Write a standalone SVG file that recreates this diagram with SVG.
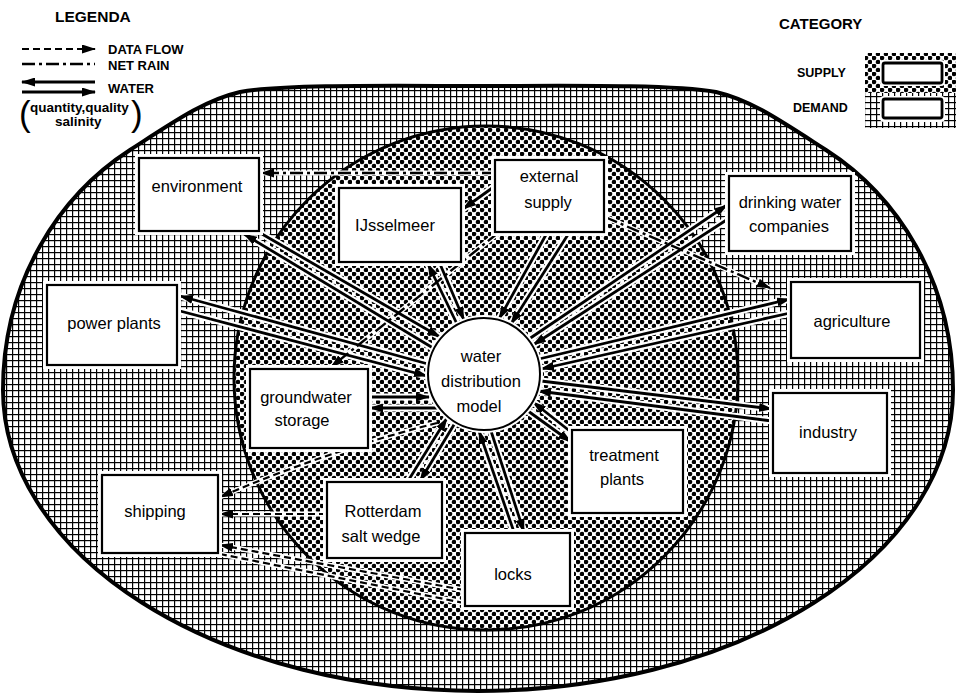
<svg xmlns="http://www.w3.org/2000/svg" width="956" height="693" viewBox="0 0 956 693">
<defs>
<pattern id="grid" x="0" y="0" width="6" height="6" patternUnits="userSpaceOnUse"><rect width="6" height="6" fill="#fff"/><rect x="0" y="0" width="6" height="1.2" fill="#000"/><rect x="0" y="0" width="1.2" height="6" fill="#000"/></pattern>
<pattern id="dots" x="0" y="0" width="8" height="8" patternUnits="userSpaceOnUse"><rect width="8" height="8" fill="#fff"/><circle cx="2" cy="2" r="2.3"/><circle cx="6" cy="6" r="2.3"/></pattern>
<marker id="ah" viewBox="0 0 14 9" refX="13" refY="4.5" markerWidth="14" markerHeight="9" markerUnits="userSpaceOnUse" orient="auto"><path d="M0,0 L14,4.5 L0,9 z" fill="#000"/></marker>
</defs>
<style>
.lbl{font-family:"Liberation Sans",Arial,sans-serif;font-size:16.5px;fill:#000;text-anchor:middle}
.leg{font-family:"Liberation Sans",Arial,sans-serif;font-weight:bold;fill:#000}
.box{fill:#fff;stroke:#000;stroke-width:2.2}
.halo{fill:#fff;stroke:none}
.hl{fill:none;stroke:#fff;stroke-width:7}
.hd{fill:none;stroke:#fff;stroke-width:5}
.w{fill:none;stroke:#000;stroke-width:2.8}
.df{fill:none;stroke:#000;stroke-width:2.2;stroke-dasharray:7 4}
.nr{fill:none;stroke:#000;stroke-width:2.4;stroke-dasharray:13 4 3 4}
.arr{marker-end:url(#ah)}
</style>
<rect width="956" height="693" fill="#fff"/>

<g id="legend">
<text class="leg" x="55" y="22" font-size="15.5">LEGENDA</text>
<line class="df arr" x1="22" y1="49" x2="95" y2="49"/>
<text class="leg" x="108" y="54" font-size="13">DATA FLOW</text>
<line class="nr" x1="22" y1="64" x2="95" y2="64"/>
<text class="leg" x="108" y="70" font-size="13">NET RAIN</text>
<line class="w arr" x1="95" y1="82" x2="22" y2="82"/>
<line class="w arr" x1="22" y1="92" x2="95" y2="92"/>
<text class="leg" x="108" y="93" font-size="13">WATER</text>
<text x="19" y="126" font-family="Liberation Sans,Arial,sans-serif" font-size="35">(</text>
<text class="leg" x="30" y="112" font-size="13.5">quantity,quality</text>
<text class="leg" x="55" y="126" font-size="13.5">salinity</text>
<text x="131" y="126" font-family="Liberation Sans,Arial,sans-serif" font-size="35">)</text>
</g>

<g id="category">
<text class="leg" x="779" y="29" font-size="15">CATEGORY</text>
<text class="leg" x="797" y="77" font-size="12.5">SUPPLY</text>
<text class="leg" x="793" y="112" font-size="12.5">DEMAND</text>
<rect x="865" y="53" width="91" height="41" fill="url(#dots)"/>
<rect x="865" y="93" width="91" height="35" fill="url(#grid)"/>
<rect x="880" y="60" width="65" height="26" rx="4" fill="#fff"/>
<rect x="883" y="63" width="59" height="20" rx="2" fill="#fff" stroke="#000" stroke-width="2.8"/>
<rect x="880" y="96" width="65" height="26" rx="4" fill="#fff"/>
<rect x="883" y="99" width="59" height="19" rx="2" fill="#fff" stroke="#000" stroke-width="2.8"/>
</g>

<g id="regions">
<path id="demand-region" d="M3,390 C3,280 60,195 130,150 C175,121 205,100 240,92 C285,84 400,86 478,86 C556,86 671,84 716,92 C751,100 781,121 826,150 C896,195 953,280 953,390 A475,301 0 0 1 3,390 Z" fill="url(#grid)" stroke="#000" stroke-width="4"/>
<circle id="supply-region" cx="486" cy="378" r="252" fill="url(#dots)" stroke="#000" stroke-width="3"/>
</g>

<g id="connectors">
<path class="hl" d="M433,348 L244,234 M262,234 L440,337 M428,364 L180,296 M180,311 L427,376 M457,324 L428,264 M440,264 L464,320 M547,233 L499,319 M569,233 L511,324 M529,339 L727,205 M728,219 L533,345 M539,359 L790,299 M790,313 L541,369 M541,381 L772,409 M772,421 L538,391 M528,411 L571,442 M571,432 L533,402 M514,532 L479,431 M491,431 L524,532 M455,423 L420,481 M408,481 L447,418 M369,397 L432,397 M438,408 L369,408 M495,186 L463,209"/>
<path class="hd" d="M495,173 L261,173 M498,233 L331,367 M605,217 L770,288 M437,423 Q330,450 220,497 M326,514 L220,514 M464,590 L220,545 M464,603 L220,554"/>
<line class="w arr" x1="433" y1="348" x2="244" y2="234"/>
<line class="w arr" x1="262" y1="234" x2="440" y2="337"/>
<line class="w arr" x1="428" y1="364" x2="180" y2="296"/>
<line class="w arr" x1="180" y1="311" x2="427" y2="376"/>
<line class="w arr" x1="457" y1="324" x2="428" y2="264"/>
<line class="w arr" x1="440" y1="264" x2="464" y2="320"/>
<line class="w arr" x1="547" y1="233" x2="499" y2="319"/>
<line class="w arr" x1="569" y1="233" x2="511" y2="324"/>
<line class="w arr" x1="529" y1="339" x2="727" y2="205"/>
<line class="w arr" x1="728" y1="219" x2="533" y2="345"/>
<line class="w arr" x1="539" y1="359" x2="790" y2="299"/>
<line class="w arr" x1="790" y1="313" x2="541" y2="369"/>
<line class="w arr" x1="541" y1="381" x2="772" y2="409"/>
<line class="w arr" x1="772" y1="421" x2="538" y2="391"/>
<line class="w arr" x1="528" y1="411" x2="571" y2="442"/>
<line class="w arr" x1="571" y1="432" x2="533" y2="402"/>
<line class="w arr" x1="514" y1="532" x2="479" y2="431"/>
<line class="w arr" x1="491" y1="431" x2="524" y2="532"/>
<line class="w arr" x1="455" y1="423" x2="420" y2="481"/>
<line class="w arr" x1="408" y1="481" x2="447" y2="418"/>
<line class="w arr" x1="369" y1="397" x2="429" y2="397"/>
<line class="w arr" x1="438" y1="408" x2="370" y2="408"/>
<line class="w arr" x1="495" y1="186" x2="463" y2="209"/>
<line class="nr arr" x1="495" y1="173" x2="261" y2="173"/>
<line class="nr arr" x1="498" y1="233" x2="331" y2="367"/>
<line class="nr arr" x1="605" y1="217" x2="770" y2="288"/>
<path class="df arr" d="M437,423 Q330,450 220,497"/>
<line class="df arr" x1="326" y1="514" x2="220" y2="514"/>
<line class="df arr" x1="464" y1="590" x2="220" y2="545"/>
<line class="df" x1="464" y1="603" x2="220" y2="554"/>
</g>

<g id="environment"><rect class="halo" x="135" y="154" width="128" height="81"/><rect class="box" x="139" y="158" width="120" height="73"/><text class="lbl" x="197" y="192">environment</text></g>
<g id="ijsselmeer"><rect class="halo" x="335" y="184" width="130" height="82"/><rect class="box" x="339" y="188" width="122" height="74"/><text class="lbl" x="395" y="231">IJsselmeer</text></g>
<g id="external-supply"><rect class="halo" x="491" y="156" width="117" height="80"/><rect class="box" x="495" y="160" width="109" height="72"/><text class="lbl" x="549" y="182">external</text><text class="lbl" x="548" y="208">supply</text></g>
<g id="drinking-water-companies"><rect class="halo" x="725" y="172" width="130" height="83"/><rect class="box" x="729" y="176" width="122" height="75"/><text class="lbl" x="790" y="208">drinking water</text><text class="lbl" x="789" y="232">companies</text></g>
<g id="power-plants"><rect class="halo" x="43" y="281" width="138" height="88"/><rect class="box" x="47" y="285" width="130" height="80"/><text class="lbl" x="114" y="329">power plants</text></g>
<g id="agriculture"><rect class="halo" x="787" y="278" width="137" height="84"/><rect class="box" x="791" y="282" width="129" height="76"/><text class="lbl" x="852" y="327">agriculture</text></g>
<g id="water-distribution-model"><circle cx="484" cy="374" r="59" fill="#fff"/><circle cx="484" cy="374" r="56" fill="#fff" stroke="#000" stroke-width="2"/><text class="lbl" x="481" y="362">water</text><text class="lbl" x="481" y="387">distribution</text><text class="lbl" x="479" y="412">model</text></g>
<g id="groundwater-storage"><rect class="halo" x="246" y="365" width="126" height="87"/><rect class="box" x="250" y="369" width="118" height="79"/><text class="lbl" x="306" y="403">groundwater</text><text class="lbl" x="302" y="426">storage</text></g>
<g id="shipping"><rect class="halo" x="98" y="471" width="124" height="86"/><rect class="box" x="102" y="475" width="116" height="78"/><text class="lbl" x="155" y="517">shipping</text></g>
<g id="rotterdam-salt-wedge"><rect class="halo" x="323" y="478" width="123" height="84"/><rect class="box" x="327" y="482" width="115" height="76"/><text class="lbl" x="383" y="517">Rotterdam</text><text class="lbl" x="381" y="542">salt wedge</text></g>
<g id="treatment-plants"><rect class="halo" x="568" y="426" width="119" height="91"/><rect class="box" x="572" y="430" width="111" height="83"/><text class="lbl" x="624" y="461">treatment</text><text class="lbl" x="622" y="485">plants</text></g>
<g id="locks"><rect class="halo" x="461" y="529" width="113" height="81"/><rect class="box" x="465" y="533" width="105" height="73"/><text class="lbl" x="513" y="580">locks</text></g>
<g id="industry"><rect class="halo" x="769" y="389" width="122" height="88"/><rect class="box" x="773" y="393" width="114" height="80"/><text class="lbl" x="828" y="438">industry</text></g>
</svg>
